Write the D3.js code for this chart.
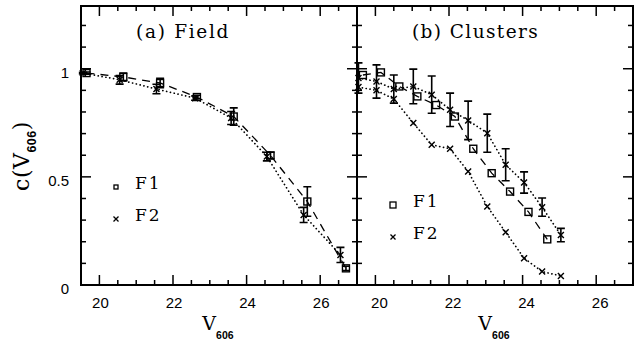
<!DOCTYPE html>
<html><head><meta charset="utf-8">
<script src="https://cdn.jsdelivr.net/npm/d3@7"></script>
<style>
html,body{margin:0;padding:0;background:#fff;}
svg{display:block;}
</style></head>
<body>
<svg id="chart" width="639" height="344"></svg>
<script>
// ---------- data ----------
const xTickLabels = [20, 22, 24, 26];
const yTickLabels = [0, 0.5, 1];
const panelTitles = ["(a) Field", "(b) Clusters"];
const legendLabels = ["F1", "F2"];

// Panel (a) Field
const fieldF1X   = [19.65, 20.65, 21.65, 22.65, 23.65, 24.65, 25.65, 26.7];
const fieldF1Y   = [0.980, 0.962, 0.934, 0.869, 0.779, 0.599, 0.386, 0.077];
const fieldF1Err = [0.005, 0.018, 0.022, 0.008, 0.040, 0.015, 0.068, 0.010];
const fieldF2X   = [19.55, 20.55, 21.55, 22.6, 23.58, 24.55, 25.55, 26.55];
const fieldF2Y   = [0.980, 0.949, 0.906, 0.864, 0.772, 0.594, 0.324, 0.139];
const fieldF2Err = [0.004, 0.020, 0.022, 0.010, 0.030, 0.020, 0.035, 0.035];

// Panel (b) Clusters
const clusF1X  = [19.66, 20.15, 20.65, 21.14, 21.65, 22.16, 22.66, 23.16, 23.66, 24.16, 24.67];
const clusF1Y  = [0.971, 0.983, 0.918, 0.872, 0.832, 0.779, 0.630, 0.517, 0.432, 0.338, 0.211];
const clusF2aX = [19.54, 20.03, 20.5, 21.03, 21.53, 22.03, 22.52, 23.04, 23.54, 24.04, 24.53, 25.04];
const clusF2aY = [0.957, 0.941, 0.906, 0.918, 0.880, 0.810, 0.761, 0.702, 0.556, 0.474, 0.360, 0.231];
const clusF2aErr = [0.070, 0.077, 0.065, 0.080, 0.086, 0.077, 0.089, 0.088, 0.074, 0.049, 0.042, 0.031];
const clusF2bX = [19.54, 20.03, 20.5, 21.03, 21.53, 22.03, 22.52, 23.04, 23.54, 24.04, 24.53, 25.04];
const clusF2bY = [0.915, 0.900, 0.860, 0.749, 0.648, 0.630, 0.525, 0.363, 0.244, 0.124, 0.062, 0.042];

// ---------- layout ----------
const svg = d3.select("#chart");
const topY = 6, bottomY = 285;
const panels = [
  {x0: 81, x1: 357, title: panelTitles[0], titleX: 136, labelDx: 1,
   legendSq: 4,
   series: [
     {xs: fieldF1X, ys: fieldF1Y, err: fieldF1Err, mark: "sq", line: "dash"},
     {xs: fieldF2X, ys: fieldF2Y, err: fieldF2Err, mark: "x", line: "dot"}
   ],
   legend: {x: 116, y1: 188, y2: 220, tx: 135}},
  {x0: 357, x1: 633, title: panelTitles[1], titleX: 412, labelDx: 4,
   legendSq: 6,
   series: [
     {xs: clusF1X, ys: clusF1Y, err: null, mark: "sq", line: "dash"},
     {xs: clusF2aX, ys: clusF2aY, err: clusF2aErr, mark: "x", line: "dot"},
     {xs: clusF2bX, ys: clusF2bY, err: null, mark: "x", line: "dot"}
   ],
   legend: {x: 393, y1: 206, y2: 238, tx: 413}}
];

const y = d3.scaleLinear().domain([0, 1.29]).range([bottomY, topY]);
const serif = "DejaVu Serif, serif";
const sans = "Liberation Sans, Arial, sans-serif";

function drawSquare(g, cx, cy, s, sw) {
  g.append("rect").attr("x", cx - s/2).attr("y", cy - s/2).attr("width", s).attr("height", s)
    .attr("fill", "none").attr("stroke", "#000").attr("stroke-width", sw);
}
function drawX(g, cx, cy, h, sw) {
  g.append("path").attr("d", `M${cx-h},${cy-h}L${cx+h},${cy+h}M${cx-h},${cy+h}L${cx+h},${cy-h}`)
    .attr("stroke", "#000").attr("stroke-width", sw).attr("fill", "none");
}

panels.forEach((p, pi) => {
  const x = d3.scaleLinear().domain([19.5, 27]).range([p.x0, p.x1]);
  const g = svg.append("g");

  // ticks: x every 0.5, major at even integers
  const xt = d3.range(20, 27, 0.5);
  xt.forEach(v => {
    const major = Math.abs(v % 2) < 1e-9;
    const len = major ? 10 : 5;
    const px = x(v);
    g.append("line").attr("x1", px).attr("x2", px).attr("y1", bottomY).attr("y2", bottomY - len)
      .attr("stroke", "#000").attr("stroke-width", 1.5);
    g.append("line").attr("x1", px).attr("x2", px).attr("y1", topY).attr("y2", topY + len)
      .attr("stroke", "#000").attr("stroke-width", 1.5);
  });
  // y ticks every 0.1, major at 0.5 and 1
  d3.range(1, 13).forEach(i => {
    const v = i / 10;
    const major = (i === 5 || i === 10);
    const len = major ? 10 : 5;
    const py = y(v);
    g.append("line").attr("x1", p.x0).attr("x2", p.x0 + len).attr("y1", py).attr("y2", py)
      .attr("stroke", "#000").attr("stroke-width", 1.5);
    g.append("line").attr("x1", p.x1).attr("x2", p.x1 - len).attr("y1", py).attr("y2", py)
      .attr("stroke", "#000").attr("stroke-width", 1.5);
  });

  // frame
  g.append("rect").attr("x", p.x0).attr("y", topY).attr("width", p.x1 - p.x0).attr("height", bottomY - topY)
    .attr("fill", "none").attr("stroke", "#000").attr("stroke-width", 2);

  // x tick labels
  xTickLabels.forEach(v => {
    g.append("text").attr("x", x(v) + p.labelDx).attr("y", 307.5).attr("text-anchor", "middle")
      .attr("font-family", sans).attr("font-size", 15).text(v);
  });

  // x axis title
  const xt2 = g.append("text").attr("x", (p.x0 + p.x1) / 2 - 1).attr("y", 330).attr("text-anchor", "middle")
    .attr("font-family", serif).attr("font-size", 19);
  xt2.append("tspan").text("V");
  xt2.append("tspan").attr("font-family", sans).attr("font-weight", "bold").attr("font-size", 10.5)
    .attr("dy", 9).text("606");

  // title
  g.append("text").attr("x", p.titleX).attr("y", 38).attr("font-family", serif)
    .attr("font-size", 18.5).attr("letter-spacing", pi === 0 ? 1.7 : 1.4).text(p.title);

  // lines
  const line = d3.line().x(d => x(d[0])).y(d => y(d[1]));
  p.series.forEach(s => {
    const pts = s.xs.map((v, i) => [v, s.ys[i]]);
    g.append("path").datum(pts).attr("d", line).attr("fill", "none").attr("stroke", "#000")
      .attr("stroke-width", s.line === "dash" ? 1.3 : 1.7)
      .attr("stroke-linecap", s.line === "dash" ? "butt" : "round")
      .attr("stroke-dasharray", s.line === "dash" ? "8,6" : "0.1,3.8");
  });

  // error bars
  p.series.forEach(s => {
    if (!s.err) return;
    s.xs.forEach((v, i) => {
      const px = x(v), y1 = y(s.ys[i] + s.err[i]), y2 = y(s.ys[i] - s.err[i]);
      g.append("path").attr("d", `M${px},${y1}L${px},${y2}M${px-4},${y1}L${px+4},${y1}M${px-4},${y2}L${px+4},${y2}`)
        .attr("stroke", "#000").attr("stroke-width", 1.6).attr("fill", "none");
    });
  });

  // markers
  p.series.forEach(s => {
    s.xs.forEach((v, i) => {
      if (s.mark === "sq") drawSquare(g, x(v), y(s.ys[i]), 7, 1.4);
      else drawX(g, x(v), y(s.ys[i]), 3, 1.4);
    });
  });

  // legend
  drawSquare(g, p.legend.x, p.legend.y1 - 1, p.legendSq, 1.3);
  drawX(g, p.legend.x, p.legend.y2 - 1, 2.5, 1.3);
  g.append("text").attr("x", p.legend.tx).attr("y", p.legend.y1 + 1).attr("font-family", serif)
    .attr("font-size", 17).attr("letter-spacing", 2).text(legendLabels[0]);
  g.append("text").attr("x", p.legend.tx).attr("y", p.legend.y2 + 1).attr("font-family", serif)
    .attr("font-size", 17).attr("letter-spacing", 2).text(legendLabels[1]);
});

// y tick labels (left panel only)
yTickLabels.forEach(v => {
  svg.append("text").attr("x", 69).attr("y", y(v) + 9).attr("text-anchor", "end")
    .attr("font-family", sans).attr("font-size", 15).text(v);
});

// y axis title
const yl = svg.append("text").attr("transform", "translate(29,156) rotate(-90)")
  .attr("text-anchor", "middle").attr("font-family", serif).attr("font-size", 22).attr("letter-spacing", 0.5);
yl.append("tspan").text("c(V");
yl.append("tspan").attr("font-family", sans).attr("font-weight", "bold").attr("font-size", 12.5)
  .attr("dy", 7).text("606");
yl.append("tspan").attr("dy", -7).text(")");
</script>
</body></html>
